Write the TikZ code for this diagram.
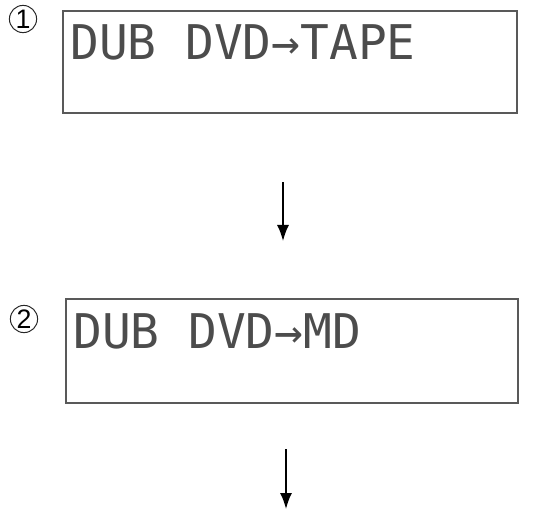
\documentclass[tikz,border=0pt]{standalone}
\usepackage{fontspec}
\newfontfamily\lcdfont{DejaVu Sans Mono}
\newfontfamily\numfont{Liberation Sans}
\usetikzlibrary{arrows.meta}

\tikzset{
  screen/.style={draw=black!65, line width=1.5pt, inner sep=0pt},
  lcdtext/.style={inner sep=0pt, anchor=base west, text=black!70,
    font=\lcdfont\fontsize{34}{34}\selectfont},
  stepnum/.style={circle, draw=black!85, line width=0.7pt, inner sep=0pt,
    minimum size=0.68cm, font=\numfont\fontsize{19}{19}\selectfont},
  flow/.style={line width=1.1pt, -{Latex[length=4mm,width=3mm]}}
}

\begin{document}
\begin{tikzpicture}[x=0.025cm,y=-0.025cm]
\useasboundingbox (0,0) rectangle (551,518);

%Step 1
\node[stepnum] (num1) at (23,19) {1};
\node[screen, minimum width=11.35cm, minimum height=2.55cm] (screen1) at (290,62) {};
\node[lcdtext] (msg1) at (70,60) {DUB DVD→TAPE};

\coordinate (a1top) at (283,182);
\coordinate (a1end) at (283,241);
\draw[flow] (a1top) -- (a1end);

%Step 2
\node[stepnum] (num2) at (24,319) {2};
\node[screen, minimum width=11.3cm, minimum height=2.6cm] (screen2) at (292,351) {};
\node[lcdtext] (msg2) at (73,348) {DUB DVD→MD};

\coordinate (a2top) at (286,449);
\coordinate (a2end) at (286,509);
\draw[flow] (a2top) -- (a2end);

\end{tikzpicture}
\end{document}
